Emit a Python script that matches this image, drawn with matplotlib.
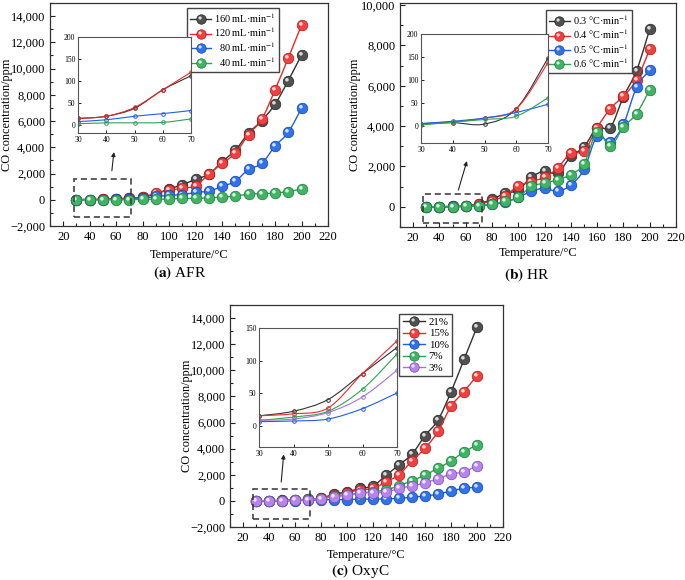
import numpy as np
import matplotlib
matplotlib.use('Agg')
import matplotlib.pyplot as plt
from matplotlib.path import Path
from matplotlib.patches import PathPatch, Rectangle
from matplotlib.lines import Line2D
from matplotlib.ticker import MultipleLocator, FuncFormatter

plt.rcParams['font.family'] = ['Liberation Serif', 'DejaVu Serif']
plt.rcParams['mathtext.fontset'] = 'stix'

# temperatures (°C)
temp = [30, 40, 50, 60, 70, 80, 90, 100, 110, 120, 130, 140, 150, 160, 170, 180, 190, 200]

# (a) air flow rate
afr_labels = ['160 mL·min$^{-1}$', '120 mL·min$^{-1}$', '  80 mL·min$^{-1}$', '  40 mL·min$^{-1}$']
afr_160 = [15, 20, 38, 80, 112, 200, 450, 840, 1140, 1570, 1950, 2900, 3780, 5080, 6040, 7280, 9090, 11040]
afr_120 = [15, 20, 40, 80, 120, 200, 500, 710, 890, 1070, 1950, 2770, 3550, 4970, 6140, 8380, 10810, 13320]
afr_80 = [8, 12, 20, 26, 33, 100, 250, 330, 400, 560, 660, 1015, 1420, 2310, 2770, 4090, 5150, 6980]
afr_40 = [3, 5, 5, 6, 14, 25, 30, 50, 100, 100, 150, 200, 280, 430, 460, 510, 630, 810]

# (b) heating rate
hr_labels = ['0.3 °C·min$^{-1}$', '0.4 °C·min$^{-1}$', '0.5 °C·min$^{-1}$', '0.6 °C·min$^{-1}$']
hr_03 = [5, 8, 5, 38, 148, 370, 670, 830, 1470, 1770, 1680, 2500, 2970, 3920, 3930, 5450, 6750, 8800]
hr_04 = [6, 10, 18, 38, 138, 300, 550, 1030, 1250, 1470, 1920, 2670, 2750, 3920, 4870, 5480, 6300, 7800]
hr_05 = [6, 11, 18, 30, 48, 130, 220, 470, 770, 920, 770, 1080, 1850, 3500, 3220, 4080, 5930, 6770]
hr_06 = [3, 9, 15, 22, 62, 120, 280, 470, 1020, 1170, 1350, 1600, 2130, 3700, 3020, 3950, 4620, 5800]

# (c) oxygen concentration
oxy_labels = ['21%', '15%', '10%', '7%', '3%']
oxy_21 = [15, 22, 40, 80, 120, 200, 510, 690, 950, 1150, 1950, 2760, 3580, 4990, 6190, 8340, 10830, 13310]
oxy_15 = [15, 18, 27, 80, 130, 200, 430, 640, 840, 950, 1460, 2000, 3070, 4020, 5320, 7240, 8370, 9600]
oxy_10 = [6, 7, 10, 26, 50, 80, 100, 100, 130, 130, 150, 200, 280, 380, 510, 770, 950, 1050]
oxy_7 = [8, 13, 22, 56, 110, 150, 350, 450, 600, 700, 850, 1150, 1560, 1970, 2510, 3050, 3760, 4270]
oxy_3 = [8, 10, 20, 44, 85, 180, 330, 430, 590, 640, 670, 950, 1150, 1380, 1710, 2050, 2230, 2690]

# face colour, line colour, edge colour
BLACK = ('#505050', '#333333', '#222222')
RED = ('#f04040', '#e82a2a', '#b01818')
BLUE = ('#2f72ea', '#1f5fe6', '#1040a8')
GREEN = ('#40b464', '#2ea356', '#1c7a3a')
PURPLE = ('#b684ea', '#a672e0', '#7a4ab8')


def smooth_path(x, y):
    # Catmull-Rom curve through the points, as cubic Bezier segments
    x = np.asarray(x, float)
    y = np.asarray(y, float)
    n = len(x)
    verts = [(x[0], y[0])]
    codes = [Path.MOVETO]
    for i in range(n - 1):
        i0, i3 = max(i - 1, 0), min(i + 2, n - 1)
        c1 = (x[i] + (x[i + 1] - x[i0]) / 6, y[i] + (y[i + 1] - y[i0]) / 6)
        c2 = (x[i + 1] - (x[i3] - x[i]) / 6, y[i + 1] - (y[i3] - y[i]) / 6)
        verts += [c1, c2, (x[i + 1], y[i + 1])]
        codes += [Path.CURVE4] * 3
    return Path(verts, codes)


def highlight_marker():
    c = Path.circle(center=(-0.3, 0.32), radius=0.34)
    verts = np.vstack([[[1, 1], [-1, -1]], c.vertices])
    codes = np.concatenate([[Path.MOVETO, Path.MOVETO], c.codes])
    return Path(verts, codes)


HL = highlight_marker()
MS = 7.6


def ball_handles(col):
    base = Line2D([], [], color=col[1], lw=1.0, marker='o', ms=6.8, mfc=col[0], mec=col[2], mew=0.5)
    hl = Line2D([], [], ls='none', marker=HL, ms=6.8, mfc=(1, 1, 1, 0.8), mec='none')
    return (base, hl)


def thousands(v, pos):
    s = f"{abs(v):,.0f}"
    return ('\u2212' + s) if v < 0 else s


def style_main(ax, ylim, ymaj, ylab_x, xlab_y):
    ax.set_xlim(10, 220)
    ax.set_ylim(*ylim)
    ax.xaxis.set_major_locator(MultipleLocator(20))
    ax.xaxis.set_minor_locator(MultipleLocator(10))
    ax.yaxis.set_major_locator(MultipleLocator(ymaj))
    ax.yaxis.set_minor_locator(MultipleLocator(ymaj / 2))
    ax.yaxis.set_major_formatter(FuncFormatter(thousands))
    ax.tick_params(which='both', direction='in', labelsize=9, width=0.8, color='#222222')
    ax.tick_params(which='major', length=3.5)
    ax.tick_params(which='minor', length=2)
    for s in ax.spines.values():
        s.set_linewidth(0.9)
        s.set_color('#333333')
    ax.set_xlabel('Temperature/°C', fontsize=8.8)
    ax.set_ylabel('CO concentration/ppm', fontsize=8.8)
    ax.yaxis.set_label_coords(ylab_x, 0.5)
    ax.xaxis.set_label_coords(0.5, xlab_y)


def draw_main(ax, series, cols):
    for i, (y, col) in enumerate(zip(series, cols)):
        z = 3 + i * 0.1
        ax.add_patch(PathPatch(smooth_path(temp, y), fill=False, ec=col[1], lw=1.0, zorder=z))
        ax.plot(temp, y, ls='none', marker='o', ms=MS, mfc=col[0], mec=col[2], mew=0.5, zorder=z)
        ax.plot(temp, y, ls='none', marker=HL, ms=MS, mfc=(1, 1, 1, 0.8), mec='none', zorder=z)


def draw_inset(fig, rect, series, cols, ylim, ystep):
    ins = fig.add_axes(rect)
    for y, col in zip(series, cols):
        ins.add_patch(PathPatch(smooth_path(temp[:5], y[:5]), fill=False, ec=col[1], lw=0.8))
        ins.plot(temp[:5], y[:5], ls='none', marker='o', ms=2.6, mfc='none', mec=col[1], mew=0.7)
    ins.set_xlim(30, 70)
    ins.set_ylim(*ylim)
    ins.xaxis.set_major_locator(MultipleLocator(10))
    ins.yaxis.set_major_locator(MultipleLocator(ystep))
    ins.tick_params(direction='in', labelsize=5.5, length=2, width=0.6, pad=2)
    for s in ins.spines.values():
        s.set_linewidth(0.8)
        s.set_color('#555555')
    return ins


def add_box_arrow(ax, box, start, end):
    x0, y0, x1, y1 = box
    ax.add_patch(Rectangle((x0, y0), x1 - x0, y1 - y0, fill=False, ec='#333333',
                           lw=1.1, ls=(0, (4, 2.5)), zorder=6))
    ax.annotate('', xy=end, xytext=start,
                arrowprops=dict(arrowstyle='-|>', color='#222222', lw=0.8, mutation_scale=6))


def add_legend(ax, cols, labels, anchor, size, spacing):
    ax.legend([ball_handles(c) for c in cols], labels, loc='upper right',
              bbox_to_anchor=anchor, bbox_transform=fig.transFigure, borderaxespad=0,
              fontsize=size, fancybox=False, edgecolor='#444444', framealpha=1,
              handlelength=2.1, handletextpad=0.3, borderpad=0.3, labelspacing=spacing)


W, H = 685, 580
fig = plt.figure(figsize=(6.85, 5.80), dpi=100)


def px(l, t, r, b):
    return [l / W, 1 - b / H, (r - l) / W, (b - t) / H]


# (a) AFR
ax_a = fig.add_axes(px(50, 3, 328, 226))
style_main(ax_a, (-2000, 15000), 2000, -0.133, -0.103)
draw_main(ax_a, [afr_160, afr_120, afr_80, afr_40], [BLACK, RED, BLUE, GREEN])
add_box_arrow(ax_a, (28, -1300, 71, 1600), (56.5, 2000), (58.5, 3850))
add_legend(ax_a, [BLACK, RED, BLUE, GREEN], afr_labels, (279 / W, 1 - 8 / H), 7.4, 0.1)
draw_inset(fig, px(78, 37, 191, 133), [afr_160, afr_120, afr_80, afr_40],
           [BLACK, RED, BLUE, GREEN], (-18, 200), 50)

# (b) HR
ax_b = fig.add_axes(px(400, 3, 676, 227))
style_main(ax_b, (-1000, 10100), 2000, -0.141, -0.089)
draw_main(ax_b, [hr_03, hr_04, hr_05, hr_06], [BLACK, RED, BLUE, GREEN])
add_box_arrow(ax_b, (27.7, -800, 72.3, 650), (53.8, 700), (61.5, 2400))
add_legend(ax_b, [BLACK, RED, BLUE, GREEN], hr_labels, (632 / W, 1 - 10 / H), 7.4, 0.08)
draw_inset(fig, px(421, 34, 548, 143), [hr_03, hr_04, hr_05, hr_06],
           [BLACK, RED, BLUE, GREEN], (-36, 200), 50)

# (c) OxyC
ax_c = fig.add_axes(px(230, 305, 503, 527))
style_main(ax_c, (-2000, 15000), 2000, -0.136, -0.099)
draw_main(ax_c, [oxy_21, oxy_15, oxy_10, oxy_7, oxy_3], [BLACK, RED, BLUE, GREEN, PURPLE])
add_box_arrow(ax_c, (27.7, -1385, 71.5, 920), (49.2, 1230), (51.5, 3770))
add_legend(ax_c, [BLACK, RED, BLUE, GREEN, PURPLE], oxy_labels, (452 / W, 1 - 314 / H), 7.8, 0.18)
draw_inset(fig, px(259, 328, 397, 447), [oxy_21, oxy_15, oxy_10, oxy_7, oxy_3],
           [BLACK, RED, BLUE, GREEN, PURPLE], (-33, 150), 50)

# captions
fig.text(180 / W, 1 - 273 / H, r'$\mathbf{(a)}$ AFR', ha='center', va='center', fontsize=11)
fig.text(527 / W, 1 - 275 / H, r'$\mathbf{(b)}$ HR', ha='center', va='center', fontsize=11)
fig.text(360 / W, 1 - 571 / H, r'$\mathbf{(c)}$ OxyC', ha='center', va='center', fontsize=11)

fig.savefig('out.png', dpi=100)
